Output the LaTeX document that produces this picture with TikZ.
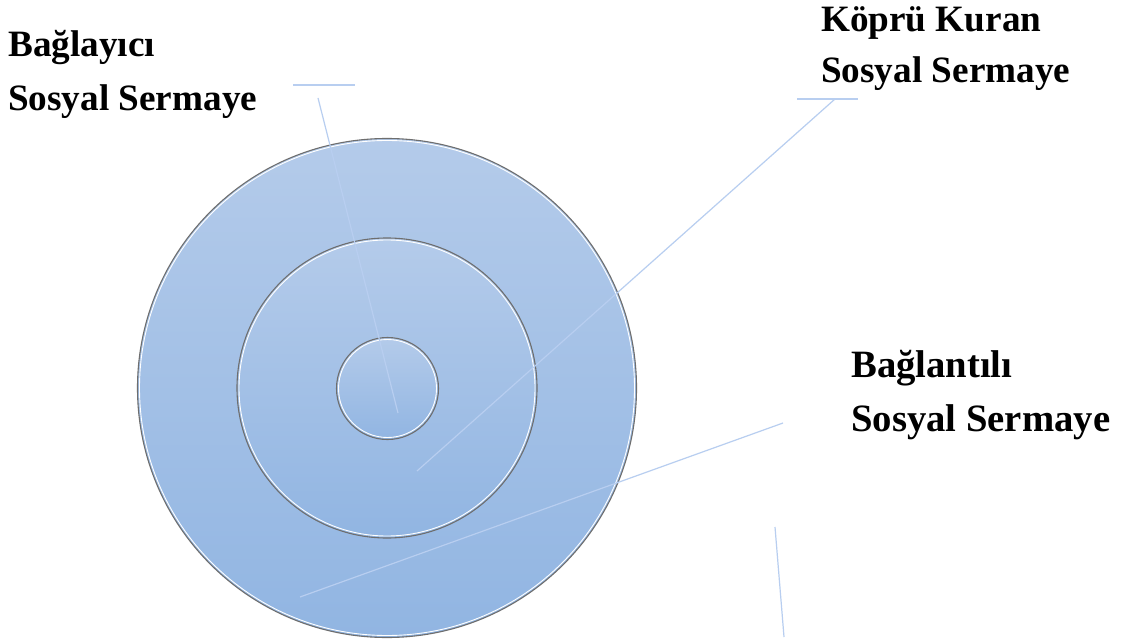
\documentclass[tikz,border=0pt]{standalone}
\usepackage{fontspec}
\setmainfont{Liberation Serif}
\definecolor{ringtop}{RGB}{180,203,234}
\definecolor{ringbot}{RGB}{145,181,226}
\definecolor{ringedge}{RGB}{110,110,110}
\definecolor{leadc}{RGB}{184,206,240}
\begin{document}
\begin{tikzpicture}[x=1pt,y=-1pt,
  ring/.style={circle, inner sep=0pt, draw=ringedge, line width=1.1pt,
     top color=ringtop, bottom color=ringbot},
  rim/.style={circle, inner sep=0pt, draw=white, line width=0.9pt},
  leader/.style={draw=leadc, line width=1.2pt},
  lbl/.style={anchor=base west, inner sep=0pt, font=\fontsize{37.2}{44}\selectfont\bfseries},
  lblbig/.style={lbl, font=\fontsize{38.7}{46}\selectfont\bfseries}]
\useasboundingbox (0,0) rectangle (1131,644);
\fill[white] (0,0) rectangle (1131,644);
% circles
\node[ring, minimum size=499pt] (outer) at (387,388) {};
\node[rim, minimum size=495pt] (outerrim) at (387,388) {};
\node[ring, minimum size=300pt] (middle) at (387,388) {};
\node[rim, minimum size=296pt] (middlerim) at (387,388) {};
\node[ring, minimum size=102pt] (inner) at (387.5,388.5) {};
\node[rim, minimum size=98pt] (innerrim) at (387.5,388.5) {};
% labels
\node[lbl] (t1a) at (8,57) {Bağlayıcı};
\node[lbl] (t1b) at (8,111) {Sosyal Sermaye};
\node[lbl] (t2a) at (821,32) {Köprü Kuran};
\node[lbl] (t2b) at (821,83) {Sosyal Sermaye};
\node[lblbig] (t3a) at (851,377) {Bağlantılı};
\node[lblbig] (t3b) at (851,431) {Sosyal Sermaye};
% leader coordinates
\coordinate (h1a) at (293,85);
\coordinate (h1b) at (355,85);
\coordinate (l1s) at (318,98);
\coordinate (l1e) at (398,413);
\coordinate (h2a) at (797,99);
\coordinate (h2b) at (858,99);
\coordinate (l2s) at (835,99);
\coordinate (l2e) at (417,471);
\coordinate (l3s) at (783,423);
\coordinate (l3e) at (300,597);
\coordinate (l4s) at (775,527);
\coordinate (l4e) at (784,637);
% leaders
\path[leader] (h1a) -- (h1b);
\path[leader] (l1s) -- (l1e);
\path[leader] (h2a) -- (h2b);
\path[leader] (l2s) -- (l2e);
\path[leader] (l3s) -- (l3e);
\path[leader] (l4s) -- (l4e);
\end{tikzpicture}
\end{document}
